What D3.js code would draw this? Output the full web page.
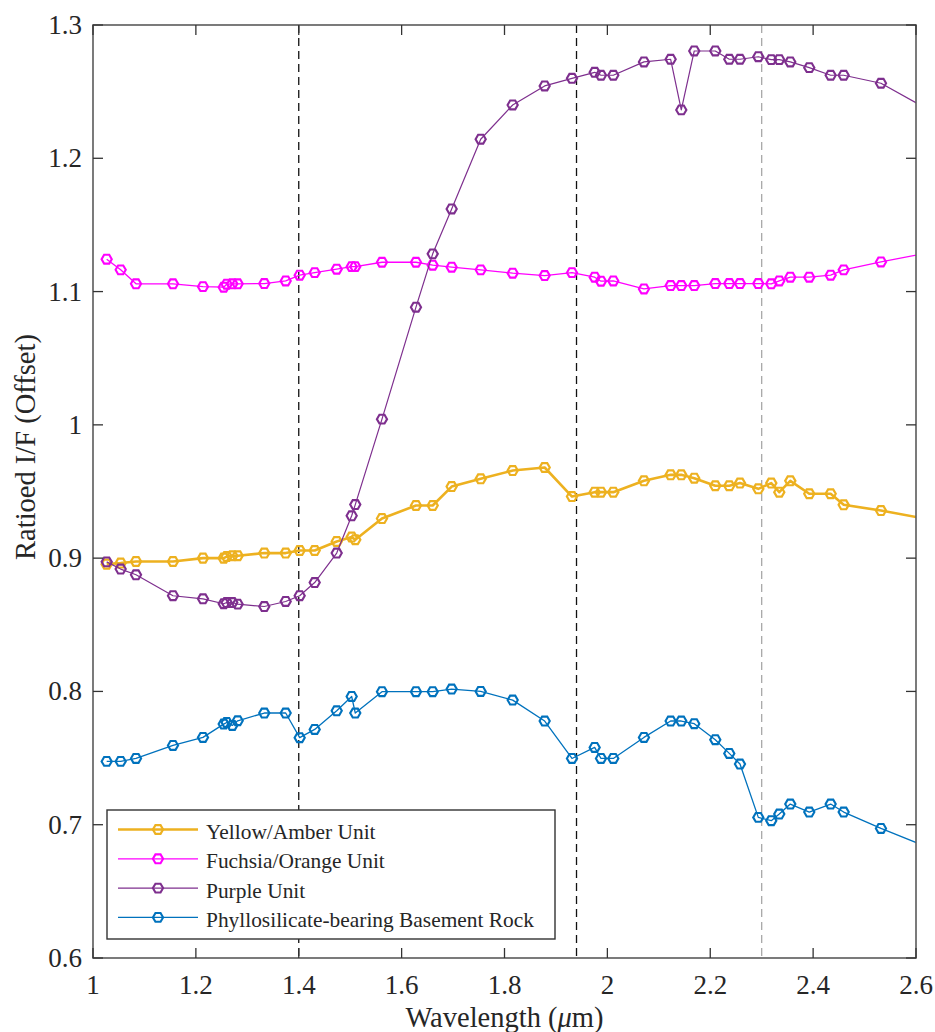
<!DOCTYPE html>
<html>
<head>
<meta charset="utf-8">
<script src="https://cdn.jsdelivr.net/npm/d3@7"></script>
<style>
  body { margin: 0; background: #fff; }
  svg { display: block; }
  text { font-family: "Liberation Serif", "Times New Roman", serif; fill: #262626; }
</style>
</head>
<body>
<svg id="chart" width="935" height="1032"></svg>
<script>
// Wavelengths (µm) of the sampled bands; the last one lies just past the axis edge.
const wavelengths = [
  1.0266, 1.0538, 1.0836, 1.1555, 1.2138, 1.2541, 1.2599, 1.2708, 1.2813, 1.3330,
  1.3746, 1.4018, 1.4310, 1.4738, 1.5029, 1.5099, 1.5618, 1.6279, 1.6604, 1.6973,
  1.7537, 1.8159, 1.8781, 1.9312, 1.9753, 1.9876, 2.0115, 2.0711, 2.1230, 2.1437,
  2.1689, 2.2098, 2.2370, 2.2578, 2.2934, 2.3186, 2.3342, 2.3556, 2.3925, 2.4341,
  2.4594, 2.5319, 2.6200
];

const yellowAmber = [
  0.8955, 0.8963, 0.8975, 0.8975, 0.9000, 0.9000, 0.9012, 0.9018, 0.9018, 0.9038,
  0.9038, 0.9057, 0.9057, 0.9125, 0.9158, 0.9138, 0.9297, 0.9395, 0.9395, 0.9537,
  0.9595, 0.9657, 0.9680, 0.9462, 0.9495, 0.9495, 0.9495, 0.9580, 0.9625, 0.9625,
  0.9600, 0.9543, 0.9543, 0.9563, 0.9520, 0.9563, 0.9495, 0.9580, 0.9483, 0.9483,
  0.9400, 0.9357, 0.9294
];

const fuchsiaOrange = [
  1.1243, 1.1163, 1.1058, 1.1058, 1.1037, 1.1033, 1.1055, 1.1058, 1.1058, 1.1060,
  1.1080, 1.1123, 1.1142, 1.1168, 1.1187, 1.1187, 1.1220, 1.1220, 1.1198, 1.1183,
  1.1163, 1.1138, 1.1120, 1.1142, 1.1108, 1.1078, 1.1080, 1.1020, 1.1045, 1.1045,
  1.1045, 1.1060, 1.1060, 1.1060, 1.1060, 1.1058, 1.1080, 1.1108, 1.1108, 1.1123,
  1.1163, 1.1222, 1.1288
];

const purpleUnit = [
  0.8972, 0.8918, 0.8875, 0.8718, 0.8695, 0.8658, 0.8667, 0.8667, 0.8655, 0.8637,
  0.8675, 0.8718, 0.8817, 0.9038, 0.9318, 0.9402, 1.0043, 1.0883, 1.1283, 1.1620,
  1.2143, 1.2400, 1.2543, 1.2600, 1.2645, 1.2623, 1.2623, 1.2723, 1.2743, 1.2363,
  1.2805, 1.2805, 1.2743, 1.2743, 1.2762, 1.2740, 1.2740, 1.2723, 1.2680, 1.2623,
  1.2623, 1.2563, 1.2374
];

const basementRock = [
  0.7475, 0.7475, 0.7497, 0.7595, 0.7655, 0.7755, 0.7767, 0.7745, 0.7780, 0.7838,
  0.7838, 0.7653, 0.7715, 0.7855, 0.7962, 0.7838, 0.7998, 0.7998, 0.7998, 0.8018,
  0.8000, 0.7935, 0.7778, 0.7497, 0.7580, 0.7497, 0.7497, 0.7655, 0.7778, 0.7778,
  0.7758, 0.7638, 0.7535, 0.7455, 0.7055, 0.7030, 0.7080, 0.7155, 0.7095, 0.7155,
  0.7095, 0.6972, 0.6836
];

const seriesNames = [
  "Yellow/Amber Unit",
  "Fuchsia/Orange Unit",
  "Purple Unit",
  "Phyllosilicate-bearing Basement Rock"
];
const seriesColors = ["#EDB120", "#FF00FF", "#7E2F8E", "#0072BD"];

// Reference band positions marked with vertical dashed lines
const bandLines = [1.40, 1.94, 2.30];
const bandLineColors = ["#111111", "#111111", "#a8a8a8"];

const xTicks = [1, 1.2, 1.4, 1.6, 1.8, 2, 2.2, 2.4, 2.6];
const xTickLabels = ["1", "1.2", "1.4", "1.6", "1.8", "2", "2.2", "2.4", "2.6"];
const yTicks = [0.6, 0.7, 0.8, 0.9, 1, 1.1, 1.2, 1.3];
const yTickLabels = ["0.6", "0.7", "0.8", "0.9", "1", "1.1", "1.2", "1.3"];

const xLabel = "Wavelength (";
const yLabel = "Ratioed I/F (Offset)";

// ---- layout ----
const plotLeft = 93, plotRight = 916, plotTop = 25, plotBottom = 958;
const svg = d3.select("#chart");

const x = d3.scaleLinear().domain([1, 2.6]).range([plotLeft, plotRight]);
const y = d3.scaleLinear().domain([0.6, 1.3]).range([plotBottom, plotTop]);

svg.append("defs").append("clipPath").attr("id", "plotClip")
  .append("rect")
  .attr("x", plotLeft).attr("y", plotTop)
  .attr("width", plotRight - plotLeft).attr("height", plotBottom - plotTop);

// Hexagonal outline marker (vertices left/right, flat top/bottom)
function hexPath(r) {
  const pts = d3.range(6).map(i => {
    const a = i * Math.PI / 3;
    return [r * Math.cos(a), r * Math.sin(a)];
  });
  return "M" + pts.map(p => p[0].toFixed(2) + "," + p[1].toFixed(2)).join("L") + "Z";
}
const marker = hexPath(5.1);

const plot = svg.append("g").attr("clip-path", "url(#plotClip)");

// vertical dashed band lines
plot.selectAll("line.band")
  .data(bandLines)
  .join("line")
  .attr("class", "band")
  .attr("x1", d => x(d)).attr("x2", d => x(d))
  .attr("y1", plotTop).attr("y2", plotBottom)
  .attr("stroke", (d, i) => bandLineColors[i])
  .attr("stroke-width", 1.3)
  .attr("stroke-dasharray", "8,5");

const seriesValues = [yellowAmber, fuchsiaOrange, purpleUnit, basementRock];
const lineWidths = [2.6, 1.3, 1.2, 1.3];
const markerWidths = [2.2, 2.1, 2.1, 2.1];

const lineGen = d3.line().x(d => x(d[0])).y(d => y(d[1]));

seriesValues.forEach((vals, si) => {
  const pts = wavelengths.map((w, i) => [w, vals[i]]);
  const g = plot.append("g");
  g.append("path")
    .attr("d", lineGen(pts))
    .attr("fill", "none")
    .attr("stroke", seriesColors[si])
    .attr("stroke-width", lineWidths[si])
    .attr("stroke-linejoin", "round");
  g.selectAll("path.mk")
    .data(pts.filter(p => p[0] <= 2.6))
    .join("path")
    .attr("class", "mk")
    .attr("d", marker)
    .attr("transform", p => `translate(${x(p[0])},${y(p[1])})`)
    .attr("fill", "none")
    .attr("stroke", seriesColors[si])
    .attr("stroke-width", markerWidths[si]);
});

// ---- axes box with inward ticks on all sides ----
const axisColor = "#5a5a5a";
const tickLen = 10;
const axes = svg.append("g");

axes.append("rect")
  .attr("x", plotLeft).attr("y", plotTop)
  .attr("width", plotRight - plotLeft).attr("height", plotBottom - plotTop)
  .attr("fill", "none").attr("stroke", axisColor).attr("stroke-width", 1.6);

xTicks.forEach(t => {
  const px = x(t);
  axes.append("line").attr("x1", px).attr("x2", px).attr("y1", plotBottom).attr("y2", plotBottom - tickLen)
    .attr("stroke", "#333").attr("stroke-width", 1.3);
  axes.append("line").attr("x1", px).attr("x2", px).attr("y1", plotTop).attr("y2", plotTop + tickLen)
    .attr("stroke", "#333").attr("stroke-width", 1.3);
});
yTicks.forEach(t => {
  const py = y(t);
  axes.append("line").attr("x1", plotLeft).attr("x2", plotLeft + tickLen).attr("y1", py).attr("y2", py)
    .attr("stroke", "#333").attr("stroke-width", 1.3);
  axes.append("line").attr("x1", plotRight).attr("x2", plotRight - tickLen).attr("y1", py).attr("y2", py)
    .attr("stroke", "#333").attr("stroke-width", 1.3);
});

// tick labels
axes.selectAll("text.xt")
  .data(xTicks)
  .join("text")
  .attr("class", "xt")
  .attr("x", d => x(d))
  .attr("y", plotBottom + 35.5)
  .attr("text-anchor", "middle")
  .attr("font-size", 27)
  .text((d, i) => xTickLabels[i]);

axes.selectAll("text.yt")
  .data(yTicks)
  .join("text")
  .attr("class", "yt")
  .attr("x", plotLeft - 11)
  .attr("y", d => y(d) + 9)
  .attr("text-anchor", "end")
  .attr("font-size", 27)
  .text((d, i) => yTickLabels[i]);

// axis titles
const xt = axes.append("text")
  .attr("x", (plotLeft + plotRight) / 2)
  .attr("y", 1027)
  .attr("text-anchor", "middle")
  .attr("font-size", 28.5);
xt.append("tspan").text(xLabel);
xt.append("tspan").attr("font-style", "italic").text("\u03BC");
xt.append("tspan").text("m)");

axes.append("text")
  .attr("transform", "translate(35,447) rotate(-90)")
  .attr("text-anchor", "middle")
  .attr("font-size", 28.5)
  .text(yLabel);

// ---- legend ----
const lg = svg.append("g");
lg.append("rect")
  .attr("x", 107).attr("y", 810)
  .attr("width", 448).attr("height", 129)
  .attr("fill", "#fff").attr("stroke", "#333").attr("stroke-width", 1.4);

seriesNames.forEach((name, i) => {
  const cy = 829.5 + i * 29.3;
  lg.append("line")
    .attr("x1", 118).attr("x2", 198).attr("y1", cy).attr("y2", cy)
    .attr("stroke", seriesColors[i]).attr("stroke-width", lineWidths[i]);
  lg.append("path")
    .attr("d", marker)
    .attr("transform", `translate(158,${cy})`)
    .attr("fill", "none").attr("stroke", seriesColors[i]).attr("stroke-width", markerWidths[i]);
  lg.append("text")
    .attr("x", 206).attr("y", cy + 9.5)
    .attr("font-size", 21.4)
    .text(name);
});
</script>
</body>
</html>
